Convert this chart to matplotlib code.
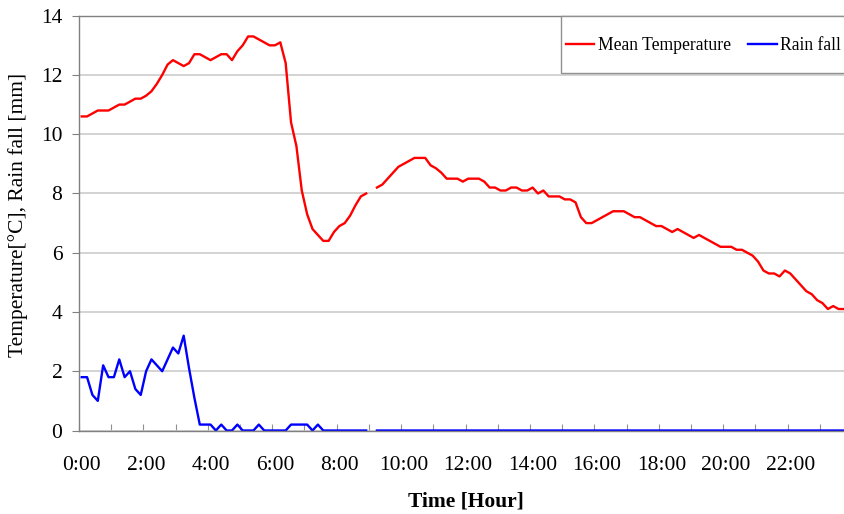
import numpy as np
import matplotlib
matplotlib.use('Agg')
import matplotlib.pyplot as plt
from matplotlib.patches import Rectangle

plt.rcParams['font.family'] = ['Liberation Serif', 'DejaVu Serif']

# 10-minute readings over one day, slot 54 (9:00) was not recorded
mean_temp = [10.6, 10.6, 10.7, 10.8, 10.8, 10.8, 10.9, 11.0, 11.0, 11.1, 11.2, 11.2,
             11.3, 11.45, 11.7, 12.0, 12.35, 12.5, 12.4, 12.3, 12.4, 12.7, 12.7, 12.6,
             12.5, 12.6, 12.7, 12.7, 12.5, 12.8, 13.0, 13.3, 13.3, 13.2, 13.1, 13.0,
             13.0, 13.1, 12.4, 10.4, 9.6, 8.1, 7.3, 6.8, 6.6, 6.4, 6.4, 6.7,
             6.9, 7.0, 7.25, 7.6, 7.9, 8.0, np.nan, 8.2, 8.3, 8.5, 8.7, 8.9,
             9.0, 9.1, 9.2, 9.2, 9.2, 8.95, 8.85, 8.7, 8.5, 8.5, 8.5, 8.4,
             8.5, 8.5, 8.5, 8.4, 8.2, 8.2, 8.1, 8.1, 8.2, 8.2, 8.1, 8.1,
             8.2, 8.0, 8.1, 7.9, 7.9, 7.9, 7.8, 7.8, 7.7, 7.2, 7.0, 7.0,
             7.1, 7.2, 7.3, 7.4, 7.4, 7.4, 7.3, 7.2, 7.2, 7.1, 7.0, 6.9,
             6.9, 6.8, 6.7, 6.8, 6.7, 6.6, 6.5, 6.6, 6.5, 6.4, 6.3, 6.2,
             6.2, 6.2, 6.1, 6.1, 6.0, 5.9, 5.7, 5.4, 5.3, 5.3, 5.2, 5.4,
             5.3, 5.1, 4.9, 4.7, 4.6, 4.4, 4.3, 4.1, 4.2, 4.1, 4.1, 4.1]

rain_fall = ([1.8, 1.8, 1.2, 1.0, 2.2, 1.8, 1.8, 2.4, 1.8, 2.0, 1.4, 1.2,
              2.0, 2.4, 2.2, 2.0, 2.4, 2.8, 2.6, 3.2, 2.1, 1.1, 0.2, 0.2,
              0.2, 0.0, 0.2, 0.0, 0.0, 0.2, 0.0, 0.0, 0.0, 0.2, 0.0, 0.0,
              0.0, 0.0, 0.0, 0.2, 0.2, 0.2, 0.2, 0.0, 0.2, 0.0]
             + [0.0] * 8 + [np.nan] + [0.0] * 89)

hour_labels = ['0:00', '2:00', '4:00', '6:00', '8:00', '10:00', '12:00',
               '14:00', '16:00', '18:00', '20:00', '22:00']

slots = np.arange(len(mean_temp))

fig = plt.figure(figsize=(8.44, 5.14), dpi=100)
W, H = 844, 514
# plot area runs a little past the right edge of the page
ax = fig.add_axes([79 / W, 1 - 430.5 / H, 773 / W, 414.8 / H])

ax.plot(slots, mean_temp, color='#ff0000', lw=1.7, label='Mean Temperature')
ax.plot(slots, rain_fall, color='#0000ff', lw=1.7, label='Rain fall')

ax.set_xlim(-0.5, len(mean_temp) - 0.5)
ax.set_ylim(0, 14)

ax.set_yticks(np.arange(0, 15, 2))
ax.yaxis.grid(True, color='#cccccc', lw=1.2)
ax.set_axisbelow(True)
ax.tick_params(axis='y', direction='out', length=5, color='#808080',
               labelsize=15.5, pad=7)

# hour ticks sit on the slot boundaries, labels every 2 hours on the slot
ax.set_xticks(np.arange(-0.5, len(mean_temp), 6))
ax.set_xticklabels([])
ax.tick_params(axis='x', which='major', direction='in', length=5, color='#909090')
ax.set_xticks(np.arange(0, len(mean_temp), 12), minor=True)
ax.set_xticklabels(hour_labels, minor=True)
ax.tick_params(axis='x', which='minor', length=0, labelsize=15.5, pad=18)

for s in ax.spines.values():
    s.set_color('#808080')
    s.set_linewidth(1.0)

ax.set_xlabel('Time [Hour]', fontsize=15.5, fontweight='bold', labelpad=12)
ax.set_ylabel('Temperature[°C], Rain fall [mm]', fontsize=15.5)
ax.yaxis.set_label_coords(-0.066, 0.52)

# legend box
fig.patches.append(Rectangle((561 / W, 1 - 73 / H), 320 / W, 57 / H,
                             transform=fig.transFigure, facecolor='white',
                             edgecolor='#909090', lw=1.0, zorder=5))
leg = fig.legend(loc='center left', bbox_to_anchor=(566 / W, 1 - 46 / H),
                 ncol=2, frameon=False, fontsize=12.7, handlelength=1.6,
                 handletextpad=0.2, columnspacing=1.0, borderaxespad=0,
                 borderpad=0)
leg.set_zorder(6)

fig.savefig('out.png', dpi=100)
